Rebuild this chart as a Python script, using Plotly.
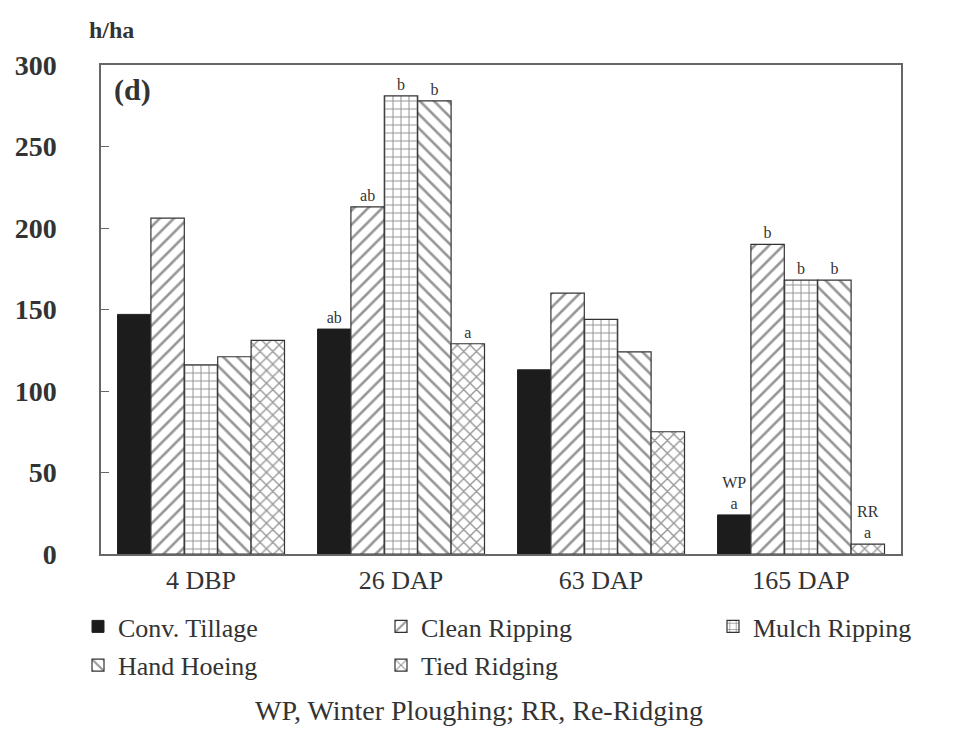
import plotly.graph_objects as go

categories = ["4 DBP", "26 DAP", "63 DAP", "165 DAP"]
series_names = ["Conv. Tillage", "Clean Ripping", "Mulch Ripping", "Hand Hoeing", "Tied Ridging"]
conv_tillage = [147, 138, 113, 24]
clean_ripping = [206, 213, 160, 190]
mulch_ripping = [116, 281, 144, 168]
hand_hoeing = [121, 278, 124, 168]
tied_ridging = [131, 129, 75, 6]
letters_conv = ["", "ab", "", "WP<br>a"]
letters_clean = ["", "ab", "", "b"]
letters_mulch = ["", "b", "", "b"]
letters_hand = ["", "b", "", "b"]
letters_tied = ["", "a", "", "RR<br>a"]
y_ticks = [0, 50, 100, 150, 200, 250, 300]

FONT = "Liberation Serif"
INK = "#333333"

values = [conv_tillage, clean_ripping, mulch_ripping, hand_hoeing, tied_ridging]
letters = [letters_conv, letters_clean, letters_mulch, letters_hand, letters_tied]
patterns = ["", "/", "+", "\\", "x"]
pat_sizes = [8, 10, 8, 10, 9]
pat_solid = [0, 0.26, 0.24, 0.26, 0.28]
legends = ["legend", "legend2", "legend3", "legend", "legend2"]

PL, PT, PW, PH = 101, 65, 800, 489


def px_x(px):
    return (px - PL) / PW


def px_y(py):
    return (PT + PH - py) / PH


fig = go.Figure()
for i, name in enumerate(series_names):
    if i == 0:
        marker = dict(color="#1c1c1c", line=dict(color="#222222", width=1))
    else:
        marker = dict(color="white", line=dict(color="#333333", width=1.2),
                      pattern=dict(shape=patterns[i], fgcolor="#2e2e2e", bgcolor="white",
                                   size=pat_sizes[i], solidity=pat_solid[i], fillmode="overlay"))
    fig.add_trace(go.Bar(
        x=categories, y=values[i], name=name, marker=marker,
        text=letters[i], textposition="outside", cliponaxis=False,
        textfont=dict(family=FONT, size=16, color=INK),
        legend=legends[i], legendgroup=name,
    ))

leg_common = dict(xanchor="left", yanchor="top", traceorder="grouped", tracegroupgap=2,
                  font=dict(family=FONT, size=26, color=INK), bgcolor="rgba(0,0,0,0)")

fig.update_layout(
    width=967, height=751,
    margin=dict(l=PL, r=967 - PL - PW, t=PT, b=751 - PT - PH, autoexpand=False),
    paper_bgcolor="white", plot_bgcolor="white",
    barmode="group", bargap=0.165, bargroupgap=0,
    font=dict(family=FONT, color=INK),
    xaxis=dict(showline=True, linecolor="#666666", linewidth=1.5, mirror=True,
               ticks="", ticklen=0, tickfont=dict(family=FONT, size=26, color=INK), tickangle=0,
               ticklabelstandoff=2, showgrid=False),
    yaxis=dict(range=[0, 300], tickvals=y_ticks, showline=True, linecolor="#666666",
               linewidth=1.5, mirror=True, ticks="inside", ticklen=8, tickcolor="#666666",
               tickfont=dict(family=FONT, size=28, color=INK, weight="bold"),
               ticklabelstandoff=37, showgrid=False, zeroline=False),
    legend=dict(x=px_x(78), y=px_y(603), **leg_common),
    legend2=dict(x=px_x(381), y=px_y(603), **leg_common),
    legend3=dict(x=px_x(713), y=px_y(603), **leg_common),
    showlegend=True,
)

fig.add_annotation(text="h/ha", xref="paper", yref="paper", x=px_x(87), y=px_y(30),
                   xanchor="left", yanchor="middle", showarrow=False,
                   font=dict(family=FONT, size=24, color=INK, weight="bold"))
fig.add_annotation(text="(d)", xref="paper", yref="paper", x=px_x(112), y=px_y(90),
                   xanchor="left", yanchor="middle", showarrow=False,
                   font=dict(family=FONT, size=30, color=INK, weight="bold"))
fig.add_annotation(text="WP, Winter Ploughing; RR, Re-Ridging", xref="paper", yref="paper",
                   x=px_x(479), y=px_y(710), xanchor="center", yanchor="middle", showarrow=False,
                   font=dict(family=FONT, size=28, color=INK))

fig.write_html("out.html", config={"displayModeBar": False},
               post_script="document.body.style.margin='0';")
